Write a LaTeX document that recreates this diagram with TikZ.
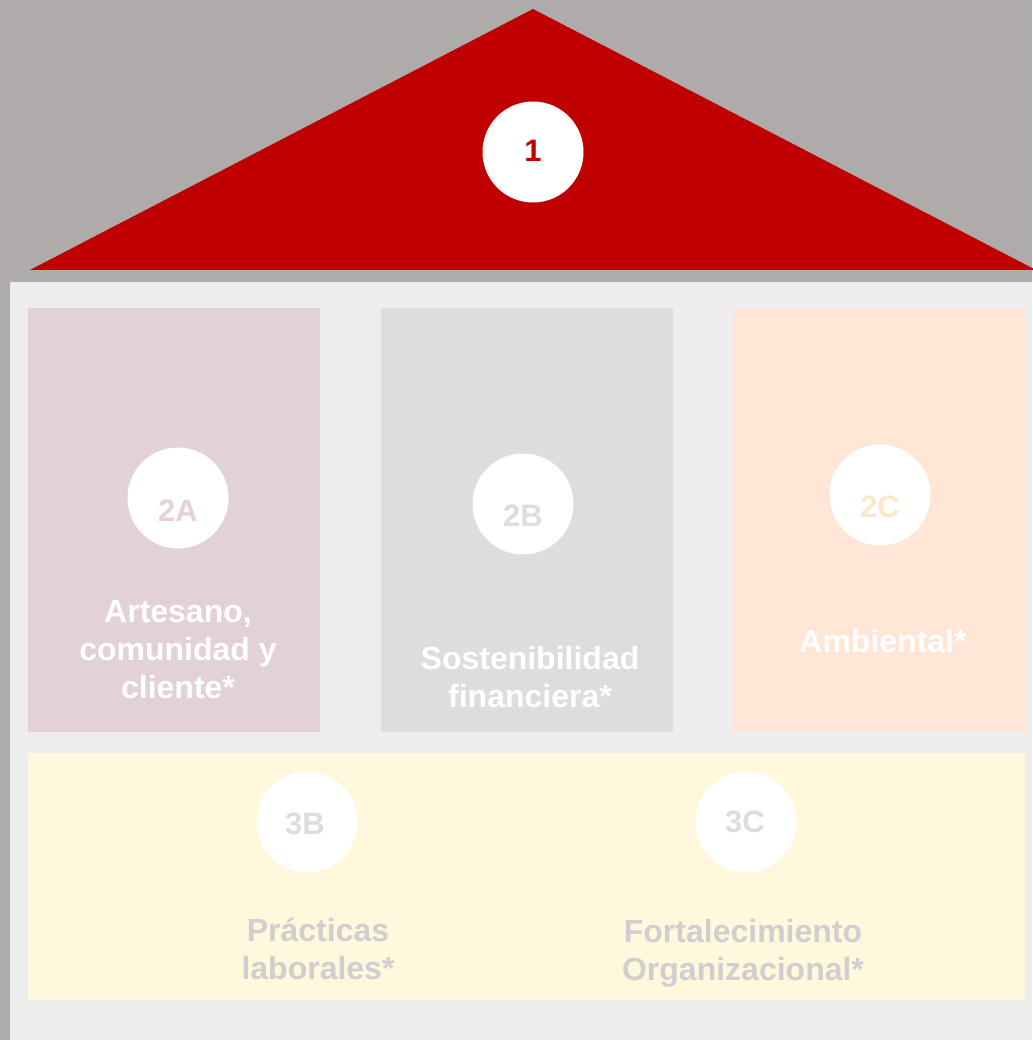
\documentclass[tikz,border=0pt]{standalone}
\usepackage{fontspec}
\setmainfont{Liberation Sans}
\definecolor{bggray}{RGB}{174,171,170}
\definecolor{roofred}{RGB}{192,0,0}
\definecolor{wallgray}{RGB}{237,237,237}
\definecolor{boxpink}{RGB}{226,209,214}
\definecolor{boxgray}{RGB}{221,221,221}
\definecolor{boxpeach}{RGB}{255,230,214}
\definecolor{boxyellow}{RGB}{255,248,220}
\definecolor{txtpink}{RGB}{231,208,214}
\definecolor{txtgray}{RGB}{221,221,221}
\definecolor{txtpeach}{RGB}{250,232,202}
\definecolor{lblgray}{RGB}{208,206,206}
\tikzset{
  badge/.style={circle, fill=white, minimum size=101pt, inner sep=0pt},
  badgetext/.style={font=\bfseries\fontsize{31}{36}\selectfont, inner sep=0pt, anchor=center},
  pillar/.style={font=\bfseries\fontsize{32}{38}\selectfont, align=center, inner sep=0pt},
}
\begin{document}
\begin{tikzpicture}[x=1pt,y=-1pt]
\useasboundingbox (0,0) rectangle (1032,1040);
\fill[bggray] (0,0) rectangle (1032,1040);
% roof
\fill[roofred] (30,270) -- (533,9) -- (1036,270) -- cycle;
% wall
\fill[wallgray] (10,282) rectangle (1032,1040);
% pillars
\fill[boxpink] (28,308) rectangle (320,732);
\fill[boxgray] (381,308) rectangle (673,732);
\fill[boxpeach] (733,308) rectangle (1025,732);
\fill[boxyellow] (28,753) rectangle (1025,1000);
% badges
\node[badge] (c1) at (533,152) {};
\node[badgetext, text=roofred] (t1) at (533,151) {1};
\node[badge] (c2a) at (178,498) {};
\node[badgetext, text=txtpink] (t2a) at (178,511) {2A};
\node[badge] (c2b) at (523,504) {};
\node[badgetext, text=txtgray] (t2b) at (523,516) {2B};
\node[badge] (c2c) at (880,495) {};
\node[badgetext, text=txtpeach] (t2c) at (880,507) {2C};
\node[badge] (c3b) at (307,822) {};
\node[badgetext, text=txtgray] (t3b) at (305,824) {3B};
\node[badge] (c3c) at (746,822) {};
\node[badgetext, text=txtgray] (t3c) at (745,822) {3C};
% labels
\node[pillar, text=white] (l2a) at (178,650) {Artesano,\\comunidad y\\cliente*};
\node[pillar, text=white] (l2b) at (530,677) {Sostenibilidad\\financiera*};
\node[pillar, text=white] (l2c) at (883,641) {Ambiental*};
\node[pillar, text=lblgray] (l3b) at (318,949) {Prácticas\\laborales*};
\node[pillar, text=lblgray] (l3c) at (743,953) {Fortalecimiento\\Organizacional*};
\end{tikzpicture}
\end{document}
